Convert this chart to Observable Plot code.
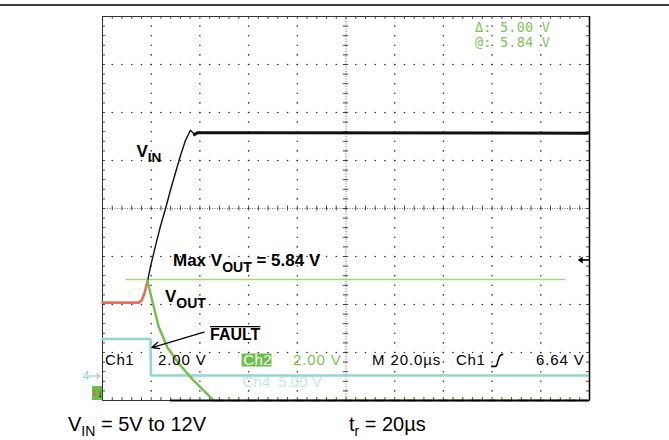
<!DOCTYPE html>
<html><head><meta charset="utf-8">
<script src="https://cdn.jsdelivr.net/npm/d3@7"></script>
<script src="https://cdn.jsdelivr.net/npm/@observablehq/plot@0.6"></script>
<style>
html,body{margin:0;padding:0;background:#fff;}
#chart{position:relative;width:669px;height:440px;overflow:hidden;}
</style></head><body><div id="chart"></div>
<script>
// ---- data (x: time in µs, 20 µs/div; y: screen divisions 0..8) ----
const vinTime = [0, 14.8, 16.0, 17.2, 18.5, 19.7, 21.8, 23.8, 25.9, 27.9, 30.0, 32.0, 34.1, 36.1, 37.8, 39.0, 199.2];
const vinDiv  = [2.04, 2.04, 2.08, 2.23, 2.48, 2.79, 3.23, 3.63, 4.00, 4.38, 4.75, 5.10, 5.42, 5.63, 5.54, 5.58, 5.57];
const voutRiseTime = [0, 14.8, 16.0, 17.2, 18.5];
const voutRiseDiv  = [2.04, 2.04, 2.08, 2.23, 2.48];
const voutFallTime = [18.5, 19.7, 21.1, 23.1, 26.6, 31.3, 36.8, 42.3, 45.7];
const voutFallDiv  = [2.50, 2.23, 1.94, 1.53, 1.11, 0.77, 0.45, 0.17, 0.00];
const faultTime = [0, 19.7, 19.9, 199.2];
const faultDiv  = [1.28, 1.28, 0.52, 0.52];
const maxVoutDiv = 2.52;
const maxLineStart = 9.7, maxLineEnd = 190.2;
const cursorTexts = ["\u0394: 5.00 V", "@: 5.84 V"];
const statusTexts = ["Ch1", "2.00 V", "Ch2", "2.00 V", "M 20.0\u00b5s", "Ch1", "6.64 V"];
const ch4Text = "Ch4  5.00 V";

const xDomain = [0, 200], yDomain = [0, 8];
const majorX = d3.range(20, 200, 20).filter(v => v !== 100);
const majorY = d3.range(1, 8).filter(v => v !== 4);
const minorX = d3.range(0, 200.001, 4);
const minorY = d3.range(0, 8.001, 0.2);

const zip = (t, d) => t.map((v, i) => ({t: v, d: d[i]}));
const vin = zip(vinTime, vinDiv);
const voutRise = zip(voutRiseTime, voutRiseDiv);
const voutFall = zip(voutFallTime, voutFallDiv);
const fault = zip(faultTime, faultDiv);

const gridDots = [];
majorX.forEach(x => minorY.slice(1, -1).forEach(y => gridDots.push({t: x, d: y})));
majorY.forEach(y => minorX.slice(1, -1).forEach(x => gridDots.push({t: x, d: y})));

const SANS = '"Liberation Sans", Arial, Helvetica, sans-serif';
const MONO = '"DejaVu Sans Mono", "Liberation Mono", monospace';

const plot = Plot.plot({
  width: 669, height: 440,
  marginLeft: 102, marginRight: 80, marginTop: 16, marginBottom: 40,
  x: {domain: xDomain, axis: null},
  y: {domain: yDomain, axis: null},
  style: {background: "white", overflow: "visible"},
  marks: [
    Plot.dot(gridDots, {x: "t", y: "d", r: 0.8, fill: "#2a2a2a", stroke: "none"}),
    Plot.ruleX([100], {stroke: "#777", strokeDasharray: "1 1.5"}),
    Plot.ruleY([4], {stroke: "#777", strokeDasharray: "1 1.5"}),
    Plot.ruleY(minorY, {y: d => d, x1: 98.9, x2: 101.1, stroke: "#444"}),
    Plot.ruleX(minorX, {x: d => d, y1: 3.95, y2: 4.05, stroke: "#444"}),
    // edge ticks
    Plot.ruleY(minorY, {y: d => d, x1: 0, x2: 1.2, stroke: "#444"}),
    Plot.ruleY(minorY, {y: d => d, x1: 198.8, x2: 200, stroke: "#444"}),
    Plot.ruleX(minorX, {x: d => d, y1: 7.94, y2: 8, stroke: "#444"}),
    Plot.ruleX(minorX, {x: d => d, y1: 0, y2: 0.06, stroke: "#444"}),
    Plot.frame({stroke: "#333", strokeWidth: 1}),
    // max vout cursor
    Plot.ruleY([maxVoutDiv], {x1: maxLineStart, x2: maxLineEnd, stroke: "#9ed58a", strokeWidth: 1.5}),
    // faint ch4 readout (under trace)
    Plot.text([ch4Text], {x: 57.5, y: 0.375, text: d => d, textAnchor: "start", fill: "#c2e7eb", fontSize: 15, fontFamily: SANS}),
    // traces
    Plot.line(fault, {x: "t", y: "d", stroke: "#93d4d9", strokeWidth: 2.6}),
    Plot.line(vin, {x: "t", y: "d", stroke: "#111", strokeWidth: 1.4}),
    Plot.line(vin.filter(p => p.t >= 37.8), {x: "t", y: "d", stroke: "#111", strokeWidth: 3}),
    Plot.line(voutRise, {x: "t", y: "d", stroke: "#ee6c58", strokeWidth: 2.6}),
    Plot.line(voutFall, {x: "t", y: "d", stroke: "#72c046", strokeWidth: 2.4}),
    Plot.ruleY([0], {x1: 45.7, x2: 199, stroke: "#72c046", strokeWidth: 2.2, strokeDasharray: "9 7"}),
    Plot.ruleY([0], {x1: 49, x2: 199, stroke: "#ee6c58", strokeWidth: 2.2, strokeDasharray: "3 13"}),
    Plot.ruleY([0], {x1: 27.9, x2: 200, stroke: "#000", strokeWidth: 2}),
    Plot.ruleX([200], {stroke: "#000", strokeWidth: 1.5}),
    // status readout box
    Plot.rect([0], {x1: 57.3, x2: 69.6, y1: 0.698, y2: 0.969, fill: "#6cbf4a"}),
    // left ground markers
    Plot.rect([0], {x1: -4.1, x2: 0, y1: 0, y2: 0.29, fill: "#6cbf4a"}),
    // FAULT arrow
    Plot.arrow([0], {x1: 41.7, y1: 1.427, x2: 20.3, y2: 1.104, stroke: "#000", strokeWidth: 1.3, headLength: 9, headAngle: 50})
  ]
});
document.getElementById("chart").appendChild(plot);

const sx = plot.scale("x"), sy = plot.scale("y");
const X = v => sx.apply(v), Y = v => sy.apply(v);
const svg = d3.select(plot);

function addText(t, d, parts, o = {}) {
  const size = o.size || 15;
  const el = svg.append("text")
    .attr("x", X(t)).attr("y", Y(d))
    .attr("text-anchor", "start")
    .attr("font-family", o.family || SANS)
    .attr("font-size", size)
    .attr("font-weight", o.weight || "normal")
    .attr("fill", o.fill || "#000")
    .attr("letter-spacing", o.ls || 0);
  let shift = 0;
  parts.forEach(p => {
    const sub = typeof p !== "string";
    const txt = sub ? p.sub : p;
    const want = sub ? (o.subShift || 5) : 0;
    const ts = el.append("tspan").text(txt).attr("dy", want - shift);
    if (sub) ts.attr("font-size", o.subSize || size * 0.8);
    shift = want;
  });
  return el;
}

// top rule
svg.append("line").attr("x1", 0).attr("x2", 669).attr("y1", 5).attr("y2", 5)
  .attr("stroke", "#000").attr("stroke-width", 1.6);

// cursor readout
addText(153.2, 7.677, [cursorTexts[0]], {family: MONO, size: 13.5, fill: "#7dc35b", ls: 0.2});
addText(153.2, 7.344, [cursorTexts[1]], {family: MONO, size: 13.5, fill: "#7dc35b", ls: 0.2});

// trace labels
addText(14.17, 5.06, ["V", {sub: "IN"}], {size: 17, weight: "bold", subSize: 13.5, subShift: 5});
addText(29.16, 2.80, ["Max V", {sub: "OUT"}, " = 5.84 V"], {size: 17, weight: "bold", subSize: 14, subShift: 6});
addText(25.87, 2.05, ["V", {sub: "OUT"}], {size: 17, weight: "bold", subSize: 14, subShift: 6});
const f = addText(44.35, 1.26, ["FAULT"], {size: 16, weight: "bold"});
const fw = f.node().getComputedTextLength();
svg.append("line").attr("x1", X(44.35)).attr("x2", X(44.35) + fw)
  .attr("y1", Y(1.26) - 12.8).attr("y2", Y(1.26) - 12.8).attr("stroke", "#000").attr("stroke-width", 1.3);

// status line
const sb = 0.719;
addText(1.23, sb, [statusTexts[0]], {size: 15, ls: 0.6});
addText(23.0, sb, [statusTexts[1]], {size: 15, ls: 0.9});
addText(58.0, sb, [statusTexts[2]], {size: 15, ls: 0.4, fill: "#fff"});
addText(78.4, sb, [statusTexts[3]], {size: 15, ls: 0.9, fill: "#78c552"});
addText(110.9, sb, [statusTexts[4]], {size: 15, ls: 0.9});
addText(145.4, sb, [statusTexts[5]], {size: 15, ls: 0.6});
addText(178.2, sb, [statusTexts[6]], {size: 15, ls: 0.9});
// rising-edge trigger symbol
svg.append("path")
  .attr("d", `M${X(159.8)},${Y(0.70)} L${X(161.6)},${Y(0.70)} Q${X(162.2)},${Y(0.70)} ${X(162.5)},${Y(0.80)} L${X(163.2)},${Y(0.90)} Q${X(163.6)},${Y(0.95)} ${X(164.8)},${Y(0.95)}`)
  .attr("fill", "none").attr("stroke", "#000").attr("stroke-width", 1.6);

// left channel markers
addText(-7.9, 0.42, ["4"], {size: 12, fill: "#8fd3d8"});
svg.append("line").attr("x1", X(-5.4)).attr("x2", X(-1.0)).attr("y1", Y(0.5)).attr("y2", Y(0.5))
  .attr("stroke", "#8fd3d8").attr("stroke-width", 1.2);
svg.append("path").attr("d", `M${X(-2.2)},${Y(0.5)-2.5} L${X(-0.9)},${Y(0.5)} L${X(-2.2)},${Y(0.5)+2.5}`)
  .attr("fill", "none").attr("stroke", "#8fd3d8").attr("stroke-width", 1.2);
addText(-2.0, 0.06, ["\u2193"], {size: 11, fill: "#000", weight: "bold"});
addText(-4.0, 0.08, ["1"], {size: 9, fill: "#e0503c"});

// trigger level arrow (right edge)
const ty = Y(2.917);
svg.append("path").attr("d", `M${X(195.4)},${ty} L${X(197.4)},${ty-3.5} L${X(197.4)},${ty+3.5} Z`).attr("fill", "#000");
svg.append("line").attr("x1", X(197)).attr("x2", X(200)).attr("y1", ty).attr("y2", ty).attr("stroke", "#000").attr("stroke-width", 1.6);

// captions
addText(-13.96, -0.64, ["V", {sub: "IN"}, " = 5V to 12V"], {size: 20, subSize: 14, subShift: 5});
addText(101.4, -0.64, ["t", {sub: "r"}, " = 20\u00b5s"], {size: 20, subSize: 14, subShift: 5});
</script></body></html>
